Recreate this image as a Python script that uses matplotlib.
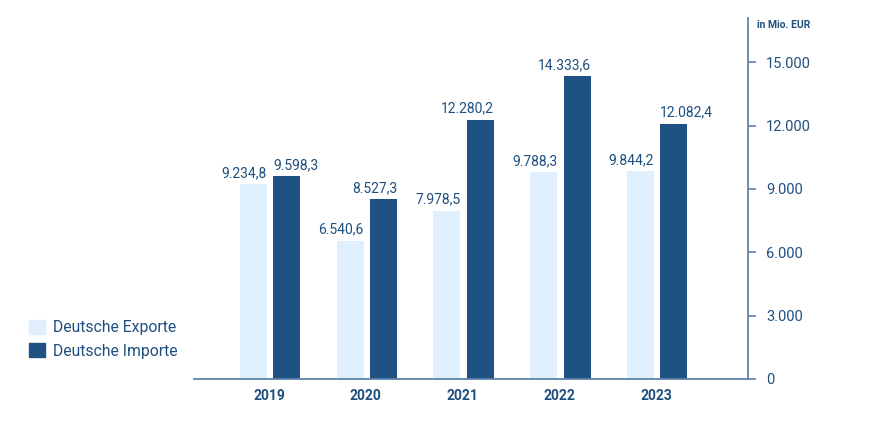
import numpy as np
import matplotlib.pyplot as plt
from matplotlib.patches import Patch

# Daten
jahre = ["2019", "2020", "2021", "2022", "2023"]
exporte = [9234.8, 6540.6, 7978.5, 9788.3, 9844.2]
importe = [9598.3, 8527.3, 12280.2, 14333.6, 12082.4]
y_ticks = [0, 3000, 6000, 9000, 12000, 15000]

# Ausrichtung der Wertelabels wie im Original
ausr_exp = ["right"] * 5
ausr_imp = ["left", "right", "right", "right", "left"]

col_exp = "#dfeffd"
col_imp = "#1f5282"
col_text = "#1f4f7e"
col_axis = "#5f82aa"

plt.rcParams['font.family'] = ['Roboto', 'DejaVu Sans']


def de_format(v, dec=1):
    s = f"{v:,.{dec}f}"
    return s.replace(",", "X").replace(".", ",").replace("X", ".")


fig = plt.figure(figsize=(8.7, 4.29), dpi=100)
ax = fig.add_axes([0.223, 0.1166, 0.637, 0.8414])

x = np.arange(len(jahre))
breite = 0.28
abstand = 0.345

b_exp = ax.bar(x - abstand / 2 + 0.01, exporte, breite, color=col_exp)
b_imp = ax.bar(x + abstand / 2 + 0.01, importe, breite, color=col_imp)

for bars, werte, ausr in [(b_exp, exporte, ausr_exp), (b_imp, importe, ausr_imp)]:
    for b, v, a in zip(bars, werte, ausr):
        xp = b.get_x() + b.get_width() if a == "right" else b.get_x()
        ax.annotate(de_format(v), (xp, v),
                    xytext=(0, 3), textcoords="offset points",
                    ha=a, va="bottom", fontsize=10, color=col_text)

ax.set_xlim(-0.775, 4.95)
ax.set_ylim(0, 17100)

ax.set_xticks(x)
ax.set_xticklabels(jahre, fontsize=10, fontweight="bold", color=col_text)
ax.tick_params(axis="x", length=0, pad=7)

ax.yaxis.tick_right()
ax.set_yticks(y_ticks)
ax.set_yticklabels([de_format(t, 0) for t in y_ticks], fontsize=10.5, color=col_text)
ax.tick_params(axis="y", length=6, width=1.2, color=col_axis, pad=7)

for s in ["top", "left"]:
    ax.spines[s].set_visible(False)
for s in ["bottom", "right"]:
    ax.spines[s].set_color(col_axis)
    ax.spines[s].set_linewidth(1.3)

fig.text(757 / 870, 1 - 25 / 429, "in Mio. EUR", fontsize=7.5, fontweight="bold",
         color=col_text, ha="left", va="center")

handles = [Patch(color=col_exp, label="Deutsche Exporte"),
           Patch(color=col_imp, label="Deutsche Importe")]
fig.legend(handles=handles, loc="upper left", bbox_to_anchor=(29 / 870, 1 - 320 / 429),
           frameon=False, fontsize=11.3, handlelength=1.0, handleheight=1.0,
           handletextpad=0.5, labelspacing=0.5, borderaxespad=0, borderpad=0,
           labelcolor=col_text)

plt.savefig("out.png", dpi=100)
